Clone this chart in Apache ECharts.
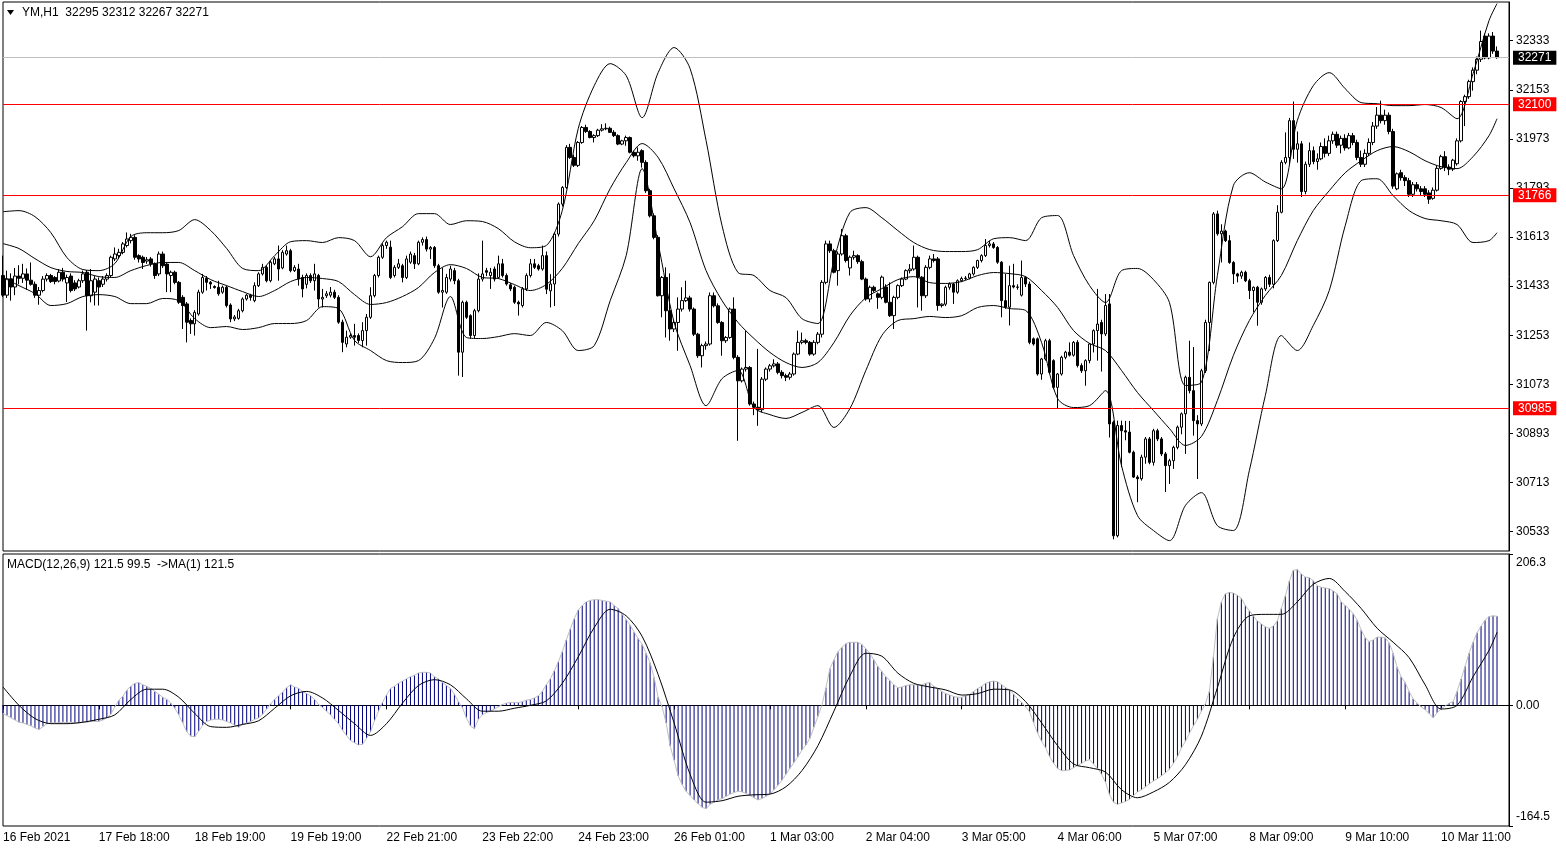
<!DOCTYPE html>
<html><head><meta charset="utf-8">
<script src="https://cdn.jsdelivr.net/npm/echarts@6/dist/echarts.min.js"></script>
<style>html,body{margin:0;padding:0;background:#fff;}#c{width:1566px;height:850px;}</style>
</head><body><div id="c"></div>
<script>
// ---- DATA ----
const symbolName = 'YM,H1';
const tickLabels = ['16 Feb 2021','17 Feb 18:00','18 Feb 19:00','19 Feb 19:00','22 Feb 21:00','23 Feb 22:00','24 Feb 23:00','26 Feb 01:00','1 Mar 03:00','2 Mar 04:00','3 Mar 05:00','4 Mar 06:00','5 Mar 07:00','8 Mar 09:00','9 Mar 10:00','10 Mar 11:00'];
const priceTicks = [30533,30713,30893,31073,31253,31433,31613,31793,31973,32153,32333];
const macdTicks = [-164.5, 0, 206.3];
const currentPrice = 32271;
const levels = [32100, 31766, 30985];

const opens = [
31472,31400,31460,31430,31470,31462,31478,31455,31440,31400,
31417,31459,31472,31465,31452,31484,31445,31470,31445,31430,
31453,31484,31398,31411,31453,31440,31459,31472,31533,31545,
31557,31582,31600,31612,31545,31539,31525,31533,31515,31478,
31551,31514,31472,31484,31447,31392,31368,31307,31295,31331,
31411,31462,31447,31432,31429,31411,31429,31364,31313,31315,
31343,31386,31400,31380,31435,31478,31502,31453,31515,31533,
31500,31551,31563,31490,31496,31465,31440,31472,31453,31472,
31386,31398,31400,31411,31392,31301,31221,31246,31252,31252,
31234,31270,31319,31398,31472,31539,31582,31576,31472,31502,
31508,31465,31521,31545,31515,31594,31604,31569,31575,31508,
31411,31411,31459,31490,31453,31191,31374,31325,31252,31343,
31459,31490,31472,31496,31465,31515,31472,31438,31429,31374,
31362,31423,31472,31515,31508,31496,31545,31416,31441,31624,
31734,31795,31942,31905,31876,31960,32015,32000,31978,31985,
32005,32010,32012,31997,31985,31954,31966,31978,31924,31911,
31930,31887,31783,31691,31612,31398,31465,31343,31276,31300,
31349,31380,31390,31349,31257,31178,31215,31221,31398,31361,
31300,31233,31245,31349,31172,31086,31129,31135,31001,30989,
30980,31092,31129,31141,31148,31117,31105,31099,31111,31184,
31227,31233,31227,31184,31227,31257,31447,31588,31563,31490,
31551,31618,31500,31539,31545,31523,31459,31386,31429,31405,
31392,31430,31374,31325,31392,31435,31459,31490,31496,31539,
31466,31398,31502,31533,31533,31362,31367,31429,31441,31411,
31453,31461,31463,31478,31502,31527,31545,31582,31588,31575,
31521,31380,31356,31435,31430,31400,31465,31441,31240,31240,
31111,31166,31233,31160,31062,31111,31172,31191,31180,31227,
31142,31123,31160,31221,31270,31300,31258,31368,30934,30518,
30922,30903,30898,30824,30733,30727,30806,30873,30787,30903,
30873,30818,30775,30793,30842,30916,30965,31099,31050,30940,
30928,31123,31300,31447,31698,31625,31635,31600,31520,31478,
31470,31484,31453,31417,31429,31374,31423,31465,31440,31600,
31704,31887,31905,32040,31935,31955,31780,31880,31930,31890,
31900,31945,31920,31966,31990,31950,31975,31940,31985,31960,
31905,31880,31920,31960,32020,32060,32040,32060,32000,31790,
31849,31831,31820,31770,31805,31790,31790,31775,31755,31785,
31865,31908,31870,31862,31882,31966,32110,32128,32183,32225,
32265,32350,32270,32350,32295];
const highs = [
31545,31490,31480,31500,31510,31515,31498,31520,31450,31430,
31470,31480,31478,31470,31496,31500,31475,31480,31455,31460,
31490,31492,31496,31470,31465,31470,31480,31545,31575,31570,
31595,31630,31625,31620,31550,31545,31540,31540,31520,31560,
31560,31520,31490,31490,31452,31400,31375,31315,31345,31420,
31478,31470,31452,31436,31453,31435,31435,31370,31327,31350,
31392,31405,31405,31447,31484,31515,31510,31527,31540,31582,
31565,31582,31570,31510,31515,31475,31480,31480,31515,31478,
31423,31415,31430,31420,31400,31310,31270,31260,31295,31260,
31301,31331,31429,31478,31545,31590,31600,31600,31510,31533,
31515,31545,31560,31555,31600,31612,31615,31580,31580,31515,
31500,31478,31508,31500,31460,31380,31380,31330,31350,31480,
31600,31500,31500,31505,31545,31533,31480,31445,31435,31380,
31430,31480,31533,31533,31515,31582,31560,31477,31630,31740,
31800,31950,31955,31915,31965,32020,32025,32005,31990,32010,
32027,32030,32018,32005,31990,31970,31985,31982,31930,31942,
31935,31895,31790,31700,31620,31470,31502,31480,31310,31392,
31429,31453,31398,31355,31262,31222,31230,31410,31410,31370,
31305,31250,31355,31392,31180,31135,31270,31140,31010,31203,
31100,31135,31148,31165,31155,31125,31112,31118,31190,31270,
31263,31240,31232,31235,31265,31455,31600,31600,31570,31560,
31643,31625,31545,31563,31550,31530,31465,31435,31435,31410,
31472,31440,31447,31398,31440,31465,31495,31514,31582,31545,
31470,31510,31545,31551,31540,31370,31435,31447,31445,31458,
31468,31470,31482,31506,31530,31550,31606,31600,31595,31580,
31525,31478,31508,31515,31440,31527,31470,31450,31245,31245,
31170,31240,31240,31165,31115,31178,31196,31227,31232,31235,
31150,31165,31225,31275,31423,31310,31404,31404,30940,30940,
30940,30939,30939,30830,30740,30815,30880,30880,30910,30910,
30880,30825,30800,30848,30922,30970,31105,31233,31210,30960,
31130,31310,31450,31705,31710,31660,31640,31620,31525,31482,
31490,31490,31460,31432,31434,31428,31470,31475,31605,31730,
31895,31997,32050,32110,32000,31965,31890,31960,31945,31920,
31960,31975,31985,32000,32000,31985,31990,31995,31995,31970,
31930,31935,31975,32035,32090,32113,32080,32070,32010,31850,
31860,31840,31830,31815,31815,31800,31800,31785,31795,31875,
31915,31928,31880,31900,31975,32115,32135,32190,32235,32275,
32370,32360,32360,32365,32312];
const lows = [
31393,31390,31380,31400,31440,31445,31420,31435,31390,31365,
31410,31450,31445,31440,31447,31450,31375,31410,31415,31425,
31445,31270,31374,31362,31362,31430,31450,31465,31525,31535,
31550,31575,31590,31530,31520,31496,31515,31505,31460,31470,
31500,31411,31411,31440,31368,31276,31227,31258,31252,31325,
31405,31417,31423,31424,31398,31405,31355,31301,31305,31310,
31337,31380,31380,31374,31430,31472,31447,31447,31510,31453,
31495,31545,31484,31485,31435,31392,31425,31445,31417,31355,
31355,31390,31392,31386,31295,31191,31209,31240,31215,31225,
31209,31215,31313,31392,31465,31533,31570,31459,31465,31496,
31447,31459,31515,31496,31510,31582,31560,31533,31500,31405,
31355,31405,31450,31440,31105,31100,31313,31240,31240,31337,
31450,31470,31423,31450,31460,31465,31435,31415,31368,31325,
31355,31415,31465,31496,31490,31490,31404,31355,31360,31615,
31725,31790,31900,31870,31870,31955,31995,31975,31960,31980,
32000,32005,31995,31980,31950,31950,31948,31920,31905,31893,
31868,31775,31685,31605,31395,31319,31245,31233,31265,31196,
31340,31375,31340,31250,31170,31135,31200,31215,31355,31295,
31178,31225,31240,31165,30866,31080,31120,30995,30960,30921,
30970,31085,31120,31135,31110,31095,31085,31090,31105,31180,
31220,31220,31178,31178,31220,31245,31440,31555,31480,31435,
31545,31520,31472,31530,31515,31455,31380,31374,31410,31350,
31385,31370,31320,31276,31385,31430,31455,31480,31490,31355,
31343,31390,31495,31520,31343,31355,31360,31420,31368,31405,
31448,31455,31458,31472,31496,31520,31540,31575,31570,31515,
31319,31350,31289,31425,31420,31395,31430,31220,31215,31105,
31090,31160,31110,31055,30983,31105,31165,31175,31175,31135,
31115,31068,31150,31190,31160,31120,31250,30878,30505,30512,
30770,30868,30820,30730,30641,30720,30782,30780,30775,30865,
30810,30678,30708,30763,30835,30890,30818,31040,30885,30726,
30920,31115,31195,31440,31618,31520,31595,31515,31441,31447,
31460,31448,31386,31337,31288,31365,31415,31430,31425,31595,
31700,31880,31880,31900,31886,31760,31770,31870,31880,31860,
31895,31905,31910,31955,31940,31920,31930,31935,31950,31895,
31870,31870,31910,31950,32010,32030,32025,31990,31790,31785,
31820,31800,31760,31760,31780,31765,31760,31735,31750,31780,
31860,31855,31840,31855,31875,31960,32020,32120,32150,32210,
32255,32265,32265,32285,32267];
const closes = [
31400,31460,31430,31470,31462,31478,31455,31440,31400,31417,
31459,31472,31450,31450,31484,31459,31465,31417,31423,31453,
31478,31398,31453,31459,31430,31459,31472,31539,31551,31557,
31588,31606,31612,31539,31533,31520,31530,31515,31472,31551,
31508,31478,31484,31447,31374,31362,31301,31295,31337,31411,
31465,31447,31441,31428,31405,31429,31362,31313,31320,31343,
31386,31400,31392,31435,31478,31502,31453,31521,31533,31496,
31557,31563,31490,31502,31459,31423,31472,31453,31478,31386,
31392,31405,31411,31392,31301,31227,31246,31252,31246,31234,
31270,31319,31398,31472,31539,31582,31594,31465,31502,31515,
31465,31533,31551,31515,31594,31604,31569,31575,31508,31411,
31417,31465,31496,31453,31191,31374,31319,31252,31343,31459,
31478,31484,31484,31459,31515,31472,31441,31423,31374,31368,
31423,31472,31515,31502,31496,31545,31422,31441,31624,31734,
31795,31942,31905,31876,31960,32015,32000,31978,31985,32005,
32010,32012,31997,31985,31954,31966,31978,31924,31911,31924,
31887,31783,31691,31612,31398,31465,31343,31276,31300,31349,
31380,31390,31349,31257,31178,31215,31221,31398,31361,31300,
31233,31245,31349,31172,31086,31129,31135,31001,30989,30980,
31092,31129,31141,31148,31117,31105,31099,31111,31184,31227,
31233,31227,31184,31227,31257,31447,31588,31563,31484,31551,
31618,31527,31539,31545,31523,31459,31386,31429,31417,31392,
31466,31374,31325,31392,31435,31459,31490,31496,31539,31466,
31398,31502,31533,31527,31362,31367,31429,31441,31411,31453,
31461,31463,31478,31502,31527,31545,31582,31588,31575,31521,
31380,31356,31435,31430,31429,31465,31441,31227,31221,31111,
31166,31233,31117,31062,31111,31172,31191,31180,31227,31142,
31123,31160,31221,31270,31294,31258,31362,30928,30518,30922,
30903,30898,30824,30733,30727,30806,30873,30787,30903,30873,
30818,30775,30793,30842,30916,30965,31099,31050,30940,30928,
31123,31300,31447,31698,31625,31635,31600,31520,31478,31470,
31484,31453,31417,31429,31374,31423,31465,31440,31600,31704,
31887,31905,32040,31935,31955,31780,31880,31930,31890,31900,
31945,31920,31966,31990,31950,31975,31940,31985,31960,31905,
31880,31920,31960,32020,32060,32040,32060,32000,31800,31845,
31831,31820,31770,31805,31790,31780,31770,31752,31785,31865,
31908,31870,31862,31895,31966,32110,32128,32183,32225,32265,
32330,32270,32350,32295,32271];

// Bollinger bands read every 4th bar (bars 0,4,...,372 and the last bar 374)
const bbUpper = [
31706,31710,31688,31629,31538,31494,31490,31516,31615,31629,
31629,31637,31677,31637,31571,31498,31490,31545,31596,31600,
31593,31611,31600,31541,31611,31651,31699,31699,31659,31673,
31670,31644,31596,31574,31582,31710,32011,32168,32249,32205,
32051,32216,32308,32231,31967,31655,31483,31472,31417,31391,
31314,31296,31527,31703,31721,31684,31637,31593,31567,31560,
31560,31567,31607,31611,31600,31684,31692,31545,31435,31373,
31490,31498,31457,31373,31069,31080,31472,31802,31849,31815,
31790,32040,32168,32216,32157,32106,32102,32095,32095,32099,
32088,32047,32212,32407,32469];
const bbMiddle = [
31589,31571,31534,31501,31487,31483,31468,31465,31490,31509,
31520,31520,31490,31457,31435,31413,31395,31417,31450,31465,
31461,31450,31402,31366,31373,31395,31428,31483,31512,31498,
31465,31461,31439,31417,31439,31498,31589,31673,31791,31886,
31956,31905,31790,31666,31490,31380,31300,31241,31190,31153,
31135,31153,31226,31325,31391,31424,31457,31468,31446,31443,
31450,31472,31483,31479,31468,31417,31355,31270,31223,31197,
31124,31043,30977,30911,30849,30882,31014,31179,31307,31399,
31472,31600,31710,31783,31849,31893,31930,31945,31926,31893,
31871,31864,31908,31985,32047];
const bbLower = [
31465,31435,31406,31362,31369,31395,31402,31395,31369,31369,
31388,31380,31314,31281,31285,31274,31281,31296,31296,31307,
31358,31351,31234,31197,31160,31153,31160,31241,31395,31245,
31241,31248,31259,31252,31300,31270,31197,31215,31380,31545,
31864,31590,31300,31142,30995,31094,31124,30988,30962,30948,
30970,30995,30915,30984,31124,31252,31307,31314,31322,31318,
31325,31355,31362,31351,31344,31226,31021,30988,30995,31050,
30775,30592,30537,30500,30629,30676,30555,30537,30757,31032,
31252,31197,31289,31417,31655,31820,31827,31765,31710,31681,
31673,31659,31593,31600,31629];

// MACD(12,26,9) main values, one per bar
const macd = [
-11,-14,-17,-20,-23,-24,-26,-28,-31,-33,
-29,-25,-24,-24,-24,-23,-24,-23,-24,-24,
-23,-23,-22,-22,-22,-20,-17,-12,-2,7,
12,21,26,30,31,28,26,23,19,15,
11,8,3,-4,-13,-24,-36,-42,-43,-35,
-27,-22,-20,-19,-19,-20,-22,-24,-27,-30,
-26,-24,-22,-19,-17,-12,-5,2,8,13,
18,24,28,25,23,19,16,13,8,1,
-3,-8,-13,-19,-25,-34,-41,-48,-51,-54,
-53,-45,-36,-21,-8,4,14,23,26,30,
33,36,39,41,44,45,45,44,39,36,
31,27,23,15,5,-3,-17,-28,-32,-19,
-13,-10,-8,-5,-2,1,3,4,4,4,
5,7,8,10,13,19,28,36,47,59,
73,89,104,118,130,136,141,143,144,144,
143,142,141,136,132,124,117,109,100,91,
83,71,58,38,11,-2,-24,-55,-75,-96,
-108,-117,-123,-129,-134,-139,-141,-135,-132,-129,
-127,-124,-121,-119,-117,-118,-120,-123,-126,-129,
-127,-124,-121,-115,-109,-102,-94,-86,-78,-70,
-61,-54,-45,-30,-15,0,24,50,62,73,
79,84,86,86,86,83,77,71,62,53,
46,39,34,28,24,25,27,28,28,28,
28,30,31,26,23,19,16,14,12,11,
11,13,15,19,23,26,30,32,33,32,
28,24,21,15,9,4,-2,-9,-24,-38,
-49,-58,-70,-79,-86,-89,-89,-88,-85,-82,
-79,-76,-74,-80,-86,-94,-105,-122,-132,-135,
-133,-131,-128,-123,-118,-115,-111,-107,-103,-100,
-96,-92,-87,-79,-70,-58,-49,-38,-28,-19,
-8,2,19,66,118,141,152,154,153,150,
146,136,129,122,115,111,107,105,108,115,
132,149,169,184,185,179,175,174,170,163,
161,160,159,156,152,141,136,131,125,116,
103,92,87,89,93,93,92,85,71,52,
39,31,19,9,3,-2,-6,-11,-17,-10,
-5,-1,3,5,19,36,53,71,86,99,
108,116,121,122,121.5];
// MACD signal line, read every 4th bar like the bands
const signal = [
25,0,-18,-25,-25,-23,-19,-13,8,22,
22,11,-11,-29,-30,-26,-21,-4,13,19,
10,-7,-25,-41,-25,3,27,35,28,9,
-8,-8,-4,0,6,30,66,106,131,122,
94,42,-24,-94,-132,-130,-124,-122,-121,-111,
-89,-55,-8,40,71,67,44,30,25,21,
14,16,22,21,5,-24,-55,-80,-85,-91,
-115,-126,-118,-105,-81,-42,24,92,122,124,
124,141,165,173,155,132,105,86,65,28,
-5,0,39,75,99.5];

// ---- CHART ----
const FONT = 'Liberation Sans';
const nBars = opens.length;
const nCats = 378;
const cats = [];
for (let i = 0; i < nCats; i++) cats.push(String(i));
const candleData = opens.map((o, i) => [o, closes[i], lows[i], highs[i]]);
const sampledIndex = k => Math.min(k * 4, nBars - 1);
const toPairs = arr => arr.map((v, k) => [sampledIndex(k), v]);

const last = nBars - 1;
const headerText = `${symbolName}  ${opens[last]} ${highs[last]} ${lows[last]} ${closes[last]}`;
const macdText = `MACD(12,26,9) ${macd[last]} ${signal[signal.length-1]}  ->MA(1) ${macd[last]}`;

const chart = echarts.init(document.getElementById('c'), null, {renderer: 'canvas'});

const lvlLines = [
  {yAxis: currentPrice, lineStyle: {color: '#c0c0c0', width: 1, type: 'solid'},
   label: {backgroundColor: '#000', formatter: String(currentPrice)}},
].concat(levels.map((v, i) => ({
  yAxis: v,
  lineStyle: {color: '#ff0000', width: 1, type: 'solid'},
  label: {backgroundColor: '#ff0000', formatter: String(v)}
})));

chart.setOption({
  animation: false,
  backgroundColor: '#ffffff',
  textStyle: {fontFamily: FONT},
  grid: [
    {left: 3, right: 57, top: 2, height: 549, show: true, borderColor: '#000', borderWidth: 1},
    {left: 3, right: 57, top: 554, height: 272, show: true, borderColor: '#000', borderWidth: 1}
  ],
  graphic: [
    {type: 'polygon', shape: {points: [[7, 10], [14, 10], [10.5, 15]]}, style: {fill: '#000'}},
    {type: 'text', left: 22, top: 7, style: {text: headerText, font: '12px "Liberation Sans"', fill: '#000'}},
    {type: 'text', left: 7, top: 559, style: {text: macdText, font: '12px "Liberation Sans"', fill: '#000'}}
  ],
  xAxis: [
    {type: 'category', gridIndex: 0, data: cats, boundaryGap: false,
     axisLine: {show: false}, axisTick: {show: false}, axisLabel: {show: false}, splitLine: {show: false}},
    {type: 'category', gridIndex: 1, data: cats, boundaryGap: false,
     axisLine: {show: true, lineStyle: {color: '#000', width: 1}},
     axisTick: {show: true, length: 4, lineStyle: {color: '#000'},
       interval: (idx) => idx % 24 === 0 && idx / 24 < tickLabels.length},
     axisLabel: {show: true, color: '#000', fontSize: 12, fontFamily: FONT, align: 'left', margin: 6,
       interval: (idx) => idx % 24 === 0 && idx / 24 < tickLabels.length,
       formatter: (v, idx) => tickLabels[Math.round(Number(v) / 24)] || ''},
     splitLine: {show: false}}
  ],
  yAxis: [
    {type: 'value', gridIndex: 0, position: 'right', min: 30462, max: 32475,
     axisLine: {show: true, lineStyle: {color: '#000'}},
     axisTick: {show: true, length: 4, customValues: priceTicks, lineStyle: {color: '#000'}},
     axisLabel: {show: true, customValues: priceTicks, color: '#000', fontSize: 12, fontFamily: FONT, margin: 7,
       formatter: v => String(v)},
     splitLine: {show: false}},
    {type: 'value', gridIndex: 1, position: 'right', min: -164.5, max: 206.3,
     axisLine: {show: true, lineStyle: {color: '#000'}},
     axisTick: {show: true, length: 4, customValues: macdTicks, lineStyle: {color: '#000'}},
     axisLabel: {show: true, customValues: macdTicks, color: '#000', fontSize: 12, fontFamily: FONT, margin: 7,
       verticalAlignMaxLabel: 'top', verticalAlignMinLabel: 'bottom', padding: [3, 0, 3, 0],
       formatter: v => (v === 0 ? '0.00' : Number(v).toFixed(1))},
     splitLine: {show: false}}
  ],
  series: [
    {type: 'candlestick', name: 'YM', xAxisIndex: 0, yAxisIndex: 0, data: candleData, barWidth: 3,
     itemStyle: {color: '#ffffff', color0: '#000000', borderColor: '#000000', borderColor0: '#000000', borderWidth: 1},
     markLine: {silent: true, symbol: ['none', 'none'], animation: false,
       label: {show: true, position: 'end', distance: 4, color: '#fff', fontSize: 12, fontFamily: FONT, padding: [1, 5, 1, 5]},
       data: lvlLines}},
    {type: 'line', name: 'BB upper', xAxisIndex: 0, yAxisIndex: 0, data: toPairs(bbUpper), showSymbol: false, smooth: 0.3,
     lineStyle: {color: '#000', width: 1}, z: 3},
    {type: 'line', name: 'BB middle', xAxisIndex: 0, yAxisIndex: 0, data: toPairs(bbMiddle), showSymbol: false, smooth: 0.3,
     lineStyle: {color: '#000', width: 1}, z: 3},
    {type: 'line', name: 'BB lower', xAxisIndex: 0, yAxisIndex: 0, data: toPairs(bbLower), showSymbol: false, smooth: 0.3,
     lineStyle: {color: '#000', width: 1}, z: 3},
    {type: 'bar', name: 'MACD', xAxisIndex: 1, yAxisIndex: 1, data: macd, barWidth: 1,
     itemStyle: {color: '#000080'}},
    {type: 'line', name: 'MACD line', xAxisIndex: 1, yAxisIndex: 1, data: macd, showSymbol: false,
     lineStyle: {color: '#c0c0c0', width: 1}, z: 3},
    {type: 'line', name: 'Signal', xAxisIndex: 1, yAxisIndex: 1, data: toPairs(signal), showSymbol: false, smooth: 0.3,
     lineStyle: {color: '#000', width: 1}, z: 4}
  ]
});
</script>
</body></html>
